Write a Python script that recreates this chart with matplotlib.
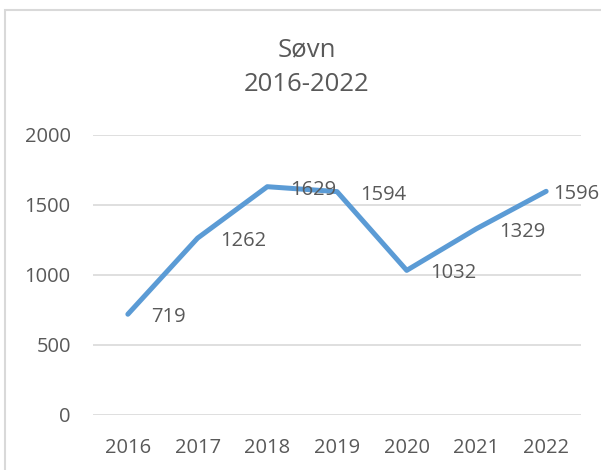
import matplotlib
matplotlib.use("Agg")
import matplotlib.pyplot as plt
from matplotlib.patches import Rectangle

years = ["2016", "2017", "2018", "2019", "2020", "2021", "2022"]
values = [719, 1262, 1629, 1594, 1032, 1329, 1596]
yticks = [0, 500, 1000, 1500, 2000]

TXT = "#595959"
LINE = "#5B9BD5"
GRID = "#D9D9D9"
FONT = "Open Sans"

W, H = 601, 470
fig = plt.figure(figsize=(W / 100, H / 100), dpi=100)
fig.patch.set_facecolor("white")

# chart-area border (extends beyond the image on the right/bottom)
fig.patches.append(Rectangle((4.7 / W, -0.1), 1.2, 1 - 9.7 / H + 0.1,
                             transform=fig.transFigure, fill=False,
                             edgecolor=GRID, linewidth=1.5))

ax = fig.add_axes([93 / W, 1 - 415 / H, (581 - 93) / W, (415 - 134.7) / H])
ax.set_facecolor("none")
x = list(range(len(years)))
ax.plot(x, values, color=LINE, linewidth=3.6, solid_capstyle="round",
        solid_joinstyle="round", zorder=3)

ax.set_xlim(-0.5, len(years) - 0.5)
ax.set_ylim(0, 2000)
ax.set_yticks(yticks)
ax.set_yticklabels([str(v) for v in yticks])
ax.set_xticks(x)
ax.set_xticklabels(years)
ax.grid(axis="y", color=GRID, linewidth=1.2)
ax.set_axisbelow(True)
for s in ax.spines.values():
    s.set_visible(False)
ax.tick_params(axis="both", length=0, labelsize=14.5, labelcolor=TXT)
ax.tick_params(axis="y", pad=16)
ax.tick_params(axis="x", pad=16.5)
for lab in ax.get_xticklabels() + ax.get_yticklabels():
    lab.set_fontfamily(FONT)

for i, v in enumerate(values):
    dx = 7 if i == len(values) - 1 else 23
    ax.annotate(str(v), (i, v), xytext=(dx, -3), textcoords="offset pixels",
                ha="left", va="center", fontsize=14.5, color=TXT,
                fontfamily=FONT, zorder=4)

fig.text(307 / W, 1 - 50 / H, "Søvn", ha="center", va="center",
         fontsize=18.5, color=TXT, fontfamily=FONT)
fig.text(307 / W, 1 - 84.5 / H, "2016-2022", ha="center", va="center",
         fontsize=18.5, color=TXT, fontfamily=FONT)

fig.savefig("out.png", dpi=100, facecolor="white")
